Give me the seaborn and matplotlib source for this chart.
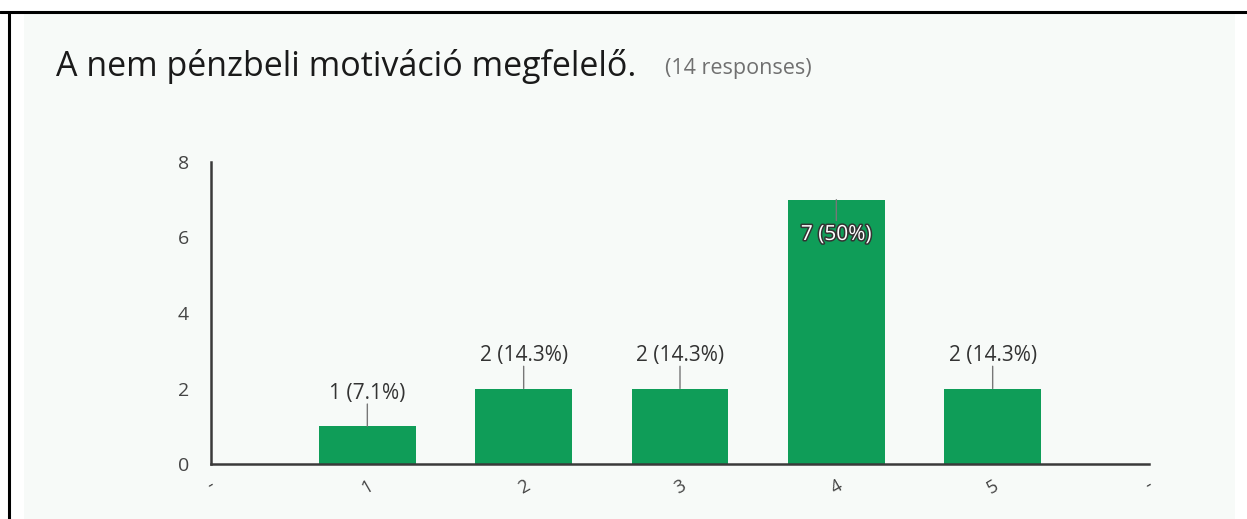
import matplotlib
matplotlib.use("Agg")
import matplotlib.pyplot as plt
import matplotlib.patheffects as pe
from matplotlib.patches import Rectangle
from matplotlib.lines import Line2D
import seaborn as sns
import pandas as pd

# Survey answers on a 1-5 scale
categories = ["1", "2", "3", "4", "5"]
counts = [1, 2, 2, 7, 2]
percents = ["7.1%", "14.3%", "14.3%", "50%", "14.3%"]
tick_labels = ["-", "1", "2", "3", "4", "5", "-"]
title = "A nem pénzbeli motiváció megfelelő."
subtitle = "(14 responses)"

sns.set_theme(style="white")
plt.rcParams["font.family"] = ["Open Sans", "DejaVu Sans"]

BG = "#f7faf8"
GREEN = "#0f9d58"
AXIS = "#3a3a3a"
TEXT = "#444444"

fig = plt.figure(figsize=(12.47, 5.19), dpi=100, facecolor="white")

# card background and frame lines
fig.add_artist(Rectangle((24 / 1247, 0), (1235 - 24) / 1247, (519 - 14) / 519,
                         transform=fig.transFigure, facecolor=BG, edgecolor="none", zorder=0))
fig.add_artist(Line2D([0, 1], [1 - 12 / 519] * 2, transform=fig.transFigure,
                      color="black", lw=2.2, zorder=1))
fig.add_artist(Line2D([9 / 1247] * 2, [0, 1 - 12 / 519], transform=fig.transFigure,
                      color="black", lw=2.2, zorder=1))

fig.text(56 / 1247, 1 - 76 / 519, title, fontsize=24.5, color="#1a1a1a",
         va="baseline", ha="left")
fig.text(665 / 1247, 1 - 74 / 519, subtitle, fontsize=15.5, color="#707070",
         va="baseline", ha="left")

left, right = 211 / 1247, 1149 / 1247
bottom, top = (519 - 464) / 519, (519 - 162) / 519
ax = fig.add_axes([left, bottom, right - left, top - bottom])
ax.set_facecolor("none")

df = pd.DataFrame({"answer": categories, "count": counts})
sns.barplot(data=df, x="answer", y="count", order=categories, color=GREEN,
            saturation=1, width=0.62, ax=ax, edgecolor="none")

ax.set_xlim(-1, 5)
ax.set_ylim(0, 8)
ax.set_xticks(range(-1, 6))
ax.set_xticklabels(tick_labels, rotation=30, fontsize=13, color=TEXT)
ax.set_yticks([0, 2, 4, 6, 8])
ax.set_yticklabels(["0", "2", "4", "6", "8"], fontsize=14, color=TEXT)
ax.tick_params(axis="both", length=0)
ax.tick_params(axis="y", pad=16)
ax.tick_params(axis="x", pad=9)
ax.set_xlabel("")
ax.set_ylabel("")

for side in ("top", "right"):
    ax.spines[side].set_visible(False)
for side in ("left", "bottom"):
    ax.spines[side].set_color(AXIS)
    ax.spines[side].set_linewidth(1.8)

# value labels with short leader lines
for i, (c, p) in enumerate(zip(counts, percents)):
    label = f"{c} ({p})"
    if c >= 6:
        ax.annotate("", xy=(i, c), xytext=(0, -15), textcoords="offset points",
                    arrowprops=dict(arrowstyle="-", color="#777777", lw=1,
                                    shrinkA=0, shrinkB=0))
        ax.annotate(label, xy=(i, c), xytext=(0, -25), textcoords="offset points",
                    ha="center", va="center", fontsize=15, color="white",
                    path_effects=[pe.withStroke(linewidth=2.2, foreground="#333333")])
    else:
        ax.annotate("", xy=(i, c), xytext=(0, 16), textcoords="offset points",
                    arrowprops=dict(arrowstyle="-", color="#777777", lw=1,
                                    shrinkA=0, shrinkB=0))
        ax.annotate(label, xy=(i, c), xytext=(0, 23.5), textcoords="offset points",
                    ha="center", va="center", fontsize=15, color="#333333")

fig.savefig("out.png", dpi=100, facecolor="white")
